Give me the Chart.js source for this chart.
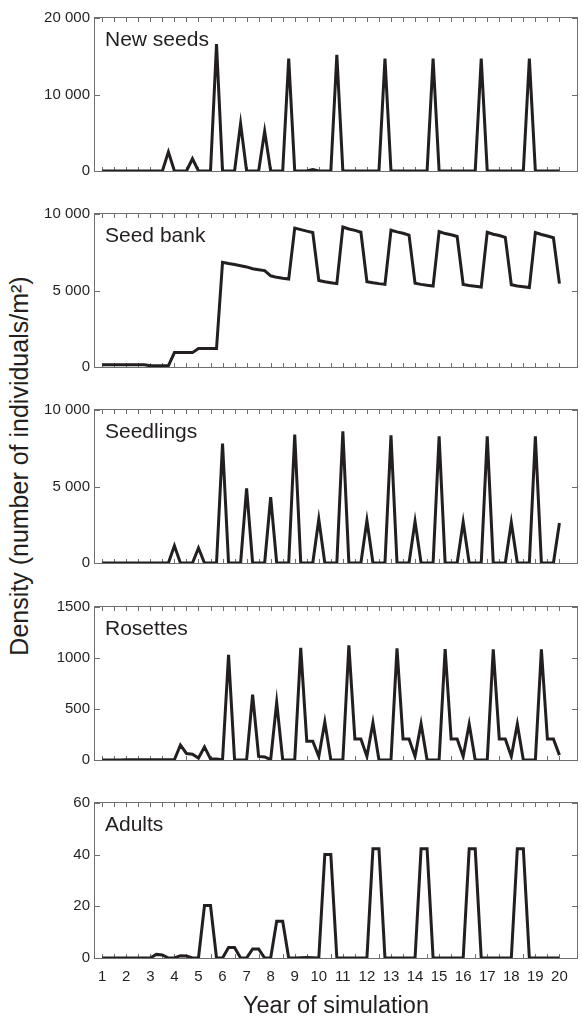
<!DOCTYPE html>
<html>
<head>
<meta charset="utf-8">
<script src="https://cdn.jsdelivr.net/npm/chart.js@4.4.1/dist/chart.umd.min.js"></script>
<style>
  html, body { margin: 0; padding: 0; background: #fff; }
  #wrap { position: relative; width: 582px; height: 1018px; overflow: hidden; }
  #wrap canvas { position: absolute; left: 0; }
  #ytitle {
    position: absolute; left: 19px; top: 466px;
    transform: translate(-50%, -50%) rotate(-90deg);
    font: 25px "Liberation Sans", Arial, sans-serif; color: #231f20; white-space: nowrap;
  }
</style>
</head>
<body>
<div id="wrap">
  <div id="ytitle">Density (number of individuals/m²)</div>
</div>
<script>
// quarterly time steps, year 1 to year 20
const years = Array.from({ length: 77 }, (_, i) => 1 + i / 4);
const yearLabels = [1, 2, 3, 4, 5, 6, 7, 8, 9, 10, 11, 12, 13, 14, 15, 16, 17, 18, 19, 20];

// one row per year (t, t+.25, t+.5, t+.75), last value = year 20
const newSeeds = [
  0, 0, 0, 0,  0, 0, 0, 0,  0, 0, 0, 2500,  0, 0, 0, 1600,  0, 0, 0, 16600,
  0, 0, 0, 6200,  0, 0, 0, 5200,  0, 0, 0, 14700,  0, 0, 0, 200,  0, 0, 0, 15200,
  0, 0, 0, 0,  0, 0, 0, 14700,  0, 0, 0, 0,  0, 0, 0, 14700,  0, 0, 0, 0,
  0, 0, 0, 14700,  0, 0, 0, 0,  0, 0, 0, 14700,  0, 0, 0, 0,
  0
];
const seedBank = [
  140, 140, 140, 140,  140, 140, 140, 140,  80, 80, 80, 80,  940, 940, 940, 940,
  1210, 1210, 1210, 1210,  6850, 6770, 6700, 6620,  6540, 6420, 6360, 6300,
  5960, 5860, 5800, 5750,  9080, 8980, 8880, 8790,  5660, 5570, 5510, 5450,
  9150, 9020, 8930, 8810,  5580, 5510, 5450, 5400,  8940, 8830, 8740, 8620,
  5470, 5400, 5340, 5290,  8850, 8720, 8640, 8530,  5400, 5330, 5280, 5230,
  8810, 8680, 8590, 8470,  5380, 5300, 5250, 5190,  8790, 8660, 8560, 8450,
  5450
];
const seedlings = [
  0, 0, 0, 0,  0, 0, 0, 0,  0, 0, 0, 0,  1120, 0, 0, 0,  980, 0, 0, 0,
  7800, 0, 0, 0,  4880, 0, 0, 0,  4300, 0, 0, 0,  8400, 0, 0, 0,  2860, 0, 0, 0,
  8600, 0, 0, 0,  2780, 0, 0, 0,  8340, 0, 0, 0,  2720, 0, 0, 0,  8280, 0, 0, 0,
  2680, 0, 0, 0,  8280, 0, 0, 0,  2650, 0, 0, 0,  8280, 0, 0, 0,
  2610
];
const rosettes = [
  0, 0, 0, 0,  3, 3, 3, 3,  3, 3, 3, 3,  3, 147, 64, 57,  19, 128, 10, 10,
  3, 1030, 0, 0,  0, 640, 35, 30,  3, 565, 0, 0,  0, 1100, 185, 185,  35, 373, 0, 0,
  0, 1125, 205, 205,  35, 365, 0, 0,  0, 1095, 205, 205,  35, 355, 0, 0,
  0, 1088, 205, 205,  35, 352, 0, 0,  0, 1085, 205, 205,  35, 352, 0, 0,
  0, 1085, 205, 205,
  48
];
const adults = [
  0, 0, 0, 0,  0, 0, 0, 0,  0, 1.4, 1.2, 0,  0, 0.9, 0.8, 0,  0, 20.3, 20.3, 0,
  0, 4.1, 4.1, 0,  0, 3.5, 3.5, 0,  0, 14.2, 14.2, 0,  0, 0.1, 0.2, 0.1,  0, 40.1, 40.1, 0,
  0, 0, 0, 0,  0, 42.3, 42.3, 0,  0, 0, 0, 0,  0, 42.3, 42.3, 0,  0, 0, 0, 0,
  0, 42.3, 42.3, 0,  0, 0, 0, 0,  0, 42.3, 42.3, 0,  0, 0, 0, 0,
  0
];

const panelNames = ['New seeds', 'Seed bank', 'Seedlings', 'Rosettes', 'Adults'];
const panelSeries = [newSeeds, seedBank, seedlings, rosettes, adults];
const yMaxes = [20000, 10000, 10000, 1500, 60];
const yTickValues = [
  [0, 10000, 20000],
  [0, 5000, 10000],
  [0, 5000, 10000],
  [0, 500, 1000, 1500],
  [0, 20, 40, 60]
];
const yTickLabels = [
  ['0', '10 000', '20 000'],
  ['0', '5 000', '10 000'],
  ['0', '5 000', '10 000'],
  ['0', '500', '1000', '1500'],
  ['0', '20', '40', '60']
];

const INK = '#231f20';
const FAMILY = '"Liberation Sans", Arial, sans-serif';
Chart.defaults.font.family = FAMILY;
Chart.defaults.color = INK;

// box round each panel, ticks pointing inwards, panel name in the corner
const framePlugin = {
  id: 'frame',
  beforeDatasetsDraw(chart, args, opts) {
    const { ctx, chartArea: a, scales: { x, y } } = chart;
    ctx.save();
    ctx.strokeStyle = '#6d6e71';
    ctx.lineWidth = 1;
    ctx.strokeRect(a.left - 0.5, a.top - 0.5, a.width + 1, a.height + 1);
    ctx.beginPath();
    yearLabels.forEach(yr => {
      [yr, yr + 0.5].forEach(v => {
        if (v > 20) return;
        const px = Math.round(x.getPixelForValue(v)) + 0.5;
        ctx.moveTo(px, a.top); ctx.lineTo(px, a.top + 4);
        ctx.moveTo(px, a.bottom); ctx.lineTo(px, a.bottom - 4);
      });
    });
    y.ticks.forEach(t => {
      const py = Math.round(y.getPixelForValue(t.value)) + 0.5;
      ctx.moveTo(a.left, py); ctx.lineTo(a.left + 5, py);
      ctx.moveTo(a.right, py); ctx.lineTo(a.right - 5, py);
    });
    ctx.stroke();
    ctx.fillStyle = INK;
    ctx.font = '21px ' + FAMILY;
    ctx.textBaseline = 'alphabetic';
    ctx.textAlign = 'left';
    ctx.fillText(opts.text, a.left + 10, a.top + 28);
    ctx.restore();
  }
};

const panelTops = [16, 212, 408, 605, 801];
const PANEL_H = 157;
const wrap = document.getElementById('wrap');

panelNames.forEach((name, i) => {
  const last = i === panelNames.length - 1;
  const top = panelTops[i] - 12;
  const height = last ? 1018 - top : PANEL_H + 24;
  const canvas = document.createElement('canvas');
  canvas.width = 582;
  canvas.height = height;
  canvas.style.top = top + 'px';
  wrap.appendChild(canvas);

  new Chart(canvas, {
    type: 'line',
    data: {
      datasets: [{
        data: years.map((t, k) => ({ x: t, y: panelSeries[i][k] })),
        borderColor: INK,
        borderWidth: 3,
        borderJoinStyle: 'miter',
        pointRadius: 0,
        tension: 0,
        fill: false
      }]
    },
    options: {
      responsive: false,
      animation: false,
      layout: { padding: { top: 12, bottom: last ? 0 : 12, left: 0, right: 5 } },
      plugins: {
        legend: { display: false },
        tooltip: { enabled: false },
        frame: { text: name }
      },
      scales: {
        x: {
          type: 'linear',
          min: 0.7,
          max: 20.73,
          display: last,
          grid: { display: false, drawTicks: false },
          border: { display: false },
          afterBuildTicks: s => { s.ticks = yearLabels.map(v => ({ value: v })); },
          afterFit: s => { s.height = last ? 60 : 0; },
          ticks: {
            autoSkip: false, maxRotation: 0, padding: 10,
            font: { size: 15 }, color: INK,
            callback: v => String(v)
          },
          title: {
            display: last, text: 'Year of simulation', color: INK,
            font: { size: 23.5, lineHeight: 1 }, padding: 0
          }
        },
        y: {
          min: 0,
          max: yMaxes[i],
          grid: { display: false, drawTicks: false },
          border: { display: false },
          afterBuildTicks: s => { s.ticks = yTickValues[i].map(v => ({ value: v })); },
          afterFit: s => { s.width = 95; },
          ticks: {
            padding: 5, font: { size: 15 }, color: INK,
            callback: (v, idx) => yTickLabels[i][idx]
          }
        }
      }
    },
    plugins: [framePlugin]
  });
});
</script>
</body>
</html>
